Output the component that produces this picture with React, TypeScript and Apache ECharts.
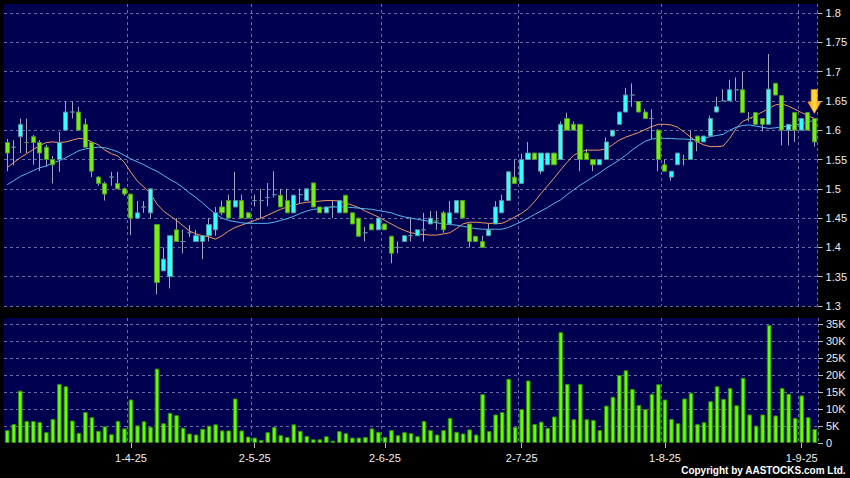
import React, { useEffect, useRef } from 'react';
import * as echarts from 'echarts';

// ---- categories (trading days, D-M-YY) ----
const daysMar = [5, 6, 7, 10, 11, 12, 13, 14, 17, 18, 19, 20, 21, 24, 25, 26, 27, 28, 31];
const daysApr = [1, 2, 3, 7, 8, 9, 10, 11, 14, 15, 16, 17, 22, 23, 24, 25, 28, 29, 30];
const daysMay = [2, 6, 7, 8, 9, 12, 13, 14, 15, 16, 19, 20, 21, 22, 23, 26, 27, 28, 29, 30];
const daysJun = [2, 3, 4, 5, 6, 9, 10, 11, 12, 13, 16, 17, 18, 19, 20, 23, 24, 25, 26, 27, 30];
const daysJul = [2, 3, 4, 7, 8, 9, 10, 11, 14, 15, 16, 17, 18, 21, 22, 23, 24, 25, 28, 29, 30, 31];
const daysAug = [1, 4, 5, 6, 7, 8, 11, 12, 13, 14, 15, 18, 19, 20, 21, 22, 25, 26, 27, 28, 29];
const daysSep = [1, 2, 3];

const monthLabels = ['1-4-25', '2-5-25', '2-6-25', '2-7-25', '1-8-25', '1-9-25'];
const priceTicks = [1.3, 1.35, 1.4, 1.45, 1.5, 1.55, 1.6, 1.65, 1.7, 1.75, 1.8];
const volumeTicks = [0, 5, 10, 15, 20, 25, 30, 35];

// ---- price series ----
const opens = [
  1.579, 1.571, 1.589, 1.579, 1.589, 1.579, 1.571, 1.550, 1.550, 1.600,
  1.631, 1.631, 1.610, 1.579, 1.520, 1.509, 1.520, 1.509, 1.500, 1.491,
  1.450, 1.469, 1.459, 1.439, 1.360, 1.350, 1.430, 1.410, 1.425, 1.410,
  1.410, 1.420, 1.430, 1.469, 1.480, 1.469, 1.480, 1.459, 1.480, 1.480,
  1.485, 1.490, 1.489, 1.480, 1.459, 1.490, 1.480, 1.510, 1.469, 1.459,
  1.470, 1.459, 1.489, 1.459, 1.450, 1.425, 1.440, 1.430, 1.440, 1.419,
  1.400, 1.410, 1.420, 1.420, 1.430, 1.440, 1.445, 1.459, 1.440, 1.459,
  1.480, 1.440, 1.419, 1.410, 1.420, 1.440, 1.459, 1.480, 1.520, 1.509,
  1.550, 1.561, 1.530, 1.541, 1.561, 1.550, 1.620, 1.610, 1.610, 1.561,
  1.550, 1.541, 1.550, 1.590, 1.610, 1.631, 1.660, 1.649, 1.631, 1.620,
  1.600, 1.541, 1.520, 1.541, 1.550, 1.550, 1.590, 1.580, 1.590, 1.631,
  1.650, 1.650, 1.669, 1.669, 1.620, 1.630, 1.620, 1.610, 1.680, 1.659,
  1.600, 1.630, 1.600, 1.630, 1.620,
];
const closes = [
  1.561, 1.571, 1.610, 1.579, 1.579, 1.561, 1.550, 1.541, 1.579, 1.631,
  1.631, 1.600, 1.571, 1.530, 1.509, 1.491, 1.520, 1.500, 1.491, 1.450,
  1.459, 1.469, 1.500, 1.340, 1.380, 1.420, 1.410, 1.410, 1.425, 1.420,
  1.420, 1.439, 1.459, 1.459, 1.450, 1.480, 1.450, 1.450, 1.480, 1.480,
  1.485, 1.490, 1.469, 1.459, 1.489, 1.490, 1.500, 1.469, 1.459, 1.469,
  1.470, 1.480, 1.459, 1.440, 1.419, 1.425, 1.430, 1.450, 1.430, 1.390,
  1.400, 1.420, 1.420, 1.430, 1.430, 1.450, 1.445, 1.430, 1.459, 1.480,
  1.450, 1.410, 1.410, 1.400, 1.430, 1.469, 1.480, 1.529, 1.509, 1.550,
  1.561, 1.550, 1.561, 1.561, 1.541, 1.610, 1.600, 1.600, 1.550, 1.550,
  1.541, 1.550, 1.580, 1.600, 1.631, 1.660, 1.660, 1.631, 1.620, 1.620,
  1.550, 1.530, 1.530, 1.561, 1.550, 1.580, 1.580, 1.590, 1.620, 1.640,
  1.650, 1.669, 1.669, 1.630, 1.620, 1.610, 1.610, 1.670, 1.660, 1.600,
  1.610, 1.600, 1.620, 1.600, 1.580,
];
const lows = [
  1.530, 1.540, 1.561, 1.561, 1.541, 1.530, 1.538, 1.509, 1.529, 1.600,
  1.620, 1.600, 1.571, 1.520, 1.505, 1.480, 1.505, 1.500, 1.488, 1.421,
  1.450, 1.459, 1.450, 1.320, 1.360, 1.330, 1.410, 1.390, 1.418, 1.410,
  1.380, 1.410, 1.420, 1.455, 1.450, 1.469, 1.450, 1.450, 1.470, 1.450,
  1.470, 1.485, 1.469, 1.459, 1.459, 1.475, 1.480, 1.469, 1.459, 1.459,
  1.450, 1.459, 1.459, 1.440, 1.419, 1.410, 1.430, 1.430, 1.430, 1.373,
  1.390, 1.410, 1.410, 1.420, 1.410, 1.440, 1.430, 1.425, 1.440, 1.459,
  1.450, 1.400, 1.410, 1.400, 1.420, 1.440, 1.459, 1.480, 1.509, 1.509,
  1.550, 1.550, 1.525, 1.541, 1.541, 1.550, 1.600, 1.600, 1.530, 1.550,
  1.530, 1.541, 1.550, 1.590, 1.610, 1.631, 1.640, 1.631, 1.620, 1.585,
  1.530, 1.530, 1.514, 1.541, 1.540, 1.549, 1.564, 1.580, 1.590, 1.631,
  1.650, 1.650, 1.650, 1.630, 1.615, 1.610, 1.598, 1.610, 1.660, 1.574,
  1.574, 1.580, 1.600, 1.600, 1.572,
];
const highs = [
  1.585, 1.583, 1.620, 1.620, 1.592, 1.583, 1.575, 1.556, 1.597, 1.649,
  1.649, 1.640, 1.620, 1.580, 1.522, 1.512, 1.529, 1.529, 1.502, 1.491,
  1.479, 1.479, 1.500, 1.439, 1.400, 1.420, 1.450, 1.430, 1.438, 1.430,
  1.420, 1.450, 1.469, 1.480, 1.490, 1.529, 1.490, 1.460, 1.490, 1.500,
  1.510, 1.530, 1.500, 1.500, 1.490, 1.500, 1.500, 1.510, 1.469, 1.469,
  1.480, 1.480, 1.489, 1.459, 1.450, 1.435, 1.440, 1.451, 1.440, 1.419,
  1.410, 1.420, 1.451, 1.430, 1.459, 1.462, 1.462, 1.462, 1.479, 1.480,
  1.480, 1.440, 1.419, 1.420, 1.440, 1.479, 1.490, 1.529, 1.550, 1.560,
  1.580, 1.561, 1.561, 1.561, 1.561, 1.615, 1.630, 1.615, 1.610, 1.568,
  1.550, 1.550, 1.588, 1.600, 1.631, 1.672, 1.680, 1.649, 1.636, 1.636,
  1.602, 1.550, 1.530, 1.561, 1.558, 1.600, 1.590, 1.590, 1.625, 1.657,
  1.670, 1.686, 1.690, 1.700, 1.631, 1.630, 1.620, 1.730, 1.680, 1.659,
  1.610, 1.630, 1.620, 1.630, 1.620,
];
const ma10 = [
  1.536, 1.545, 1.553, 1.560, 1.567, 1.574, 1.579, 1.580, 1.579, 1.580,
  1.583, 1.586, 1.585, 1.580, 1.575, 1.566, 1.560, 1.556, 1.545, 1.528,
  1.513, 1.503, 1.492, 1.474, 1.462, 1.454, 1.446, 1.437, 1.428, 1.423,
  1.420, 1.418, 1.414, 1.420, 1.428, 1.434, 1.438, 1.442, 1.446, 1.450,
  1.455, 1.460, 1.465, 1.469, 1.472, 1.475, 1.477, 1.478, 1.479, 1.480,
  1.480, 1.479, 1.476, 1.472, 1.468, 1.462, 1.457, 1.452, 1.446, 1.440,
  1.434, 1.429, 1.425, 1.423, 1.422, 1.421, 1.421, 1.423, 1.425, 1.432,
  1.440, 1.443, 1.443, 1.442, 1.441, 1.441, 1.441, 1.446, 1.452, 1.458,
  1.466, 1.478, 1.492, 1.505, 1.518, 1.532, 1.545, 1.557, 1.563, 1.566,
  1.566, 1.566, 1.568, 1.575, 1.583, 1.588, 1.592, 1.596, 1.601, 1.606,
  1.610, 1.610, 1.609, 1.605, 1.597, 1.588, 1.580, 1.575, 1.572, 1.572,
  1.573, 1.586, 1.603, 1.615, 1.620, 1.625, 1.631, 1.637, 1.643, 1.645,
  1.641, 1.636, 1.630, 1.625, 1.620,
];
const ma20 = [
  1.507, 1.514, 1.521, 1.526, 1.531, 1.536, 1.539, 1.544, 1.548, 1.553,
  1.559, 1.565, 1.568, 1.570, 1.571, 1.570, 1.567, 1.563, 1.557, 1.551,
  1.546, 1.541, 1.535, 1.530, 1.523, 1.516, 1.510, 1.502, 1.493, 1.485,
  1.476, 1.466, 1.457, 1.450, 1.446, 1.444, 1.442, 1.441, 1.441, 1.441,
  1.441, 1.443, 1.446, 1.449, 1.453, 1.458, 1.462, 1.465, 1.466, 1.468,
  1.469, 1.469, 1.469, 1.468, 1.467, 1.466, 1.465, 1.463, 1.461, 1.459,
  1.455, 1.452, 1.450, 1.448, 1.446, 1.444, 1.442, 1.440, 1.439, 1.438,
  1.436, 1.434, 1.432, 1.431, 1.431, 1.431, 1.431, 1.434, 1.439, 1.444,
  1.450, 1.456, 1.462, 1.468, 1.475, 1.481, 1.490, 1.498, 1.506, 1.513,
  1.520, 1.527, 1.535, 1.542, 1.549, 1.557, 1.566, 1.574, 1.581, 1.585,
  1.586, 1.586, 1.586, 1.585, 1.585, 1.584, 1.584, 1.586, 1.589, 1.591,
  1.593, 1.600, 1.605, 1.608, 1.609, 1.607, 1.605, 1.603, 1.604, 1.606,
  1.607, 1.609, 1.611, 1.614, 1.617,
];
// volume in thousands of shares
const volumeK = [
  3.8, 5.6, 15.4, 6.5, 6.5, 6.2, 3.2, 7.1, 17.4, 16.7,
  6.6, 3.0, 9.1, 7.6, 3.6, 4.9, 2.6, 6.5, 4.3, 12.8,
  5.2, 6.4, 4.8, 21.9, 5.8, 8.9, 8.2, 4.5, 2.8, 2.5,
  4.2, 5.1, 5.5, 3.7, 3.7, 13.1, 3.7, 1.9, 1.6, 0.9,
  3.2, 4.7, 2.3, 1.8, 5.5, 3.6, 2.1, 1.1, 1.1, 2.0,
  0.7, 3.5, 2.9, 1.6, 1.6, 1.8, 4.3, 3.3, 1.8, 3.8,
  2.3, 3.2, 2.9, 2.0, 6.5, 3.8, 2.5, 3.8, 7.4, 3.3,
  2.8, 4.0, 2.5, 14.4, 3.5, 8.4, 9.1, 18.9, 4.7, 10.0,
  18.4, 5.6, 6.3, 4.5, 7.8, 32.6, 17.4, 7.0, 17.4, 7.0,
  6.8, 3.8, 11.0, 13.6, 20.0, 21.4, 15.9, 11.2, 10.0, 14.5,
  17.3, 12.8, 7.1, 5.8, 13.1, 14.8, 5.6, 6.1, 12.3, 16.7,
  13.0, 16.2, 11.1, 19.2, 8.4, 5.1, 8.4, 34.7, 8.1, 16.2,
  14.5, 7.4, 14.0, 7.6, 4.1,
];
const markerDate = '3-9-25';
const markerPrice = 1.649;

const dates = [
  ...daysMar.map((d) => `${d}-3-25`),
  ...daysApr.map((d) => `${d}-4-25`),
  ...daysMay.map((d) => `${d}-5-25`),
  ...daysJun.map((d) => `${d}-6-25`),
  ...daysJul.map((d) => `${d}-7-25`),
  ...daysAug.map((d) => `${d}-8-25`),
  ...daysSep.map((d) => `${d}-9-25`),
];

const NAVY = '#000050';
const GRID_LINE = '#6a6aa6';
const FONT = '"Liberation Sans", Arial, sans-serif';

export default function App() {
  const ref = useRef<HTMLDivElement>(null);
  useEffect(() => {
    if (!ref.current) return;
    const chart = echarts.init(ref.current, null, { renderer: 'svg' });
    const isMonth = (_i: number, v: string) => monthLabels.includes(v);
    const wickData = dates.map((_, i) => [opens[i], closes[i], lows[i], highs[i]]);
    const bodyData = dates.map((_, i) => [
      opens[i], closes[i], Math.min(opens[i], closes[i]), Math.max(opens[i], closes[i]),
    ]);
    const priceMax = 1.8 + 9 / 586;
    const volMax = (35 * 125) / 119;
    const dashed = { color: GRID_LINE, type: [3, 3] as any, width: 1 };

    chart.setOption({
      animation: false,
      backgroundColor: '#000000',
      textStyle: { fontFamily: FONT },
      grid: [
        { left: 4, top: 4, width: 814, height: 302, show: true, backgroundColor: NAVY, borderWidth: 0 },
        { left: 4, top: 318, width: 814, height: 125, show: true, backgroundColor: NAVY, borderWidth: 0 },
      ],
      xAxis: [
        {
          type: 'category', gridIndex: 0, data: dates, boundaryGap: true,
          axisLine: { show: false }, axisTick: { show: false }, axisLabel: { show: false },
          splitLine: { show: true, interval: isMonth, lineStyle: dashed },
        },
        {
          type: 'category', gridIndex: 1, data: dates, boundaryGap: true,
          axisLine: { show: false },
          axisTick: { show: true, interval: isMonth, alignWithLabel: true, length: 5, lineStyle: { color: '#bbbbbb' } },
          axisLabel: { show: true, interval: isMonth, color: '#eeeeee', fontSize: 11, margin: 9, fontFamily: FONT },
          splitLine: { show: true, interval: isMonth, lineStyle: dashed },
        },
      ],
      yAxis: [
        {
          type: 'value', gridIndex: 0, position: 'right', min: 1.3, max: priceMax, interval: 0.05,
          axisLine: { show: false },
          axisTick: { show: true, length: 5, customValues: priceTicks, lineStyle: { color: '#bbbbbb' } },
          axisLabel: {
            show: true, customValues: priceTicks, color: '#eeeeee', fontSize: 11, margin: 8,
            fontFamily: FONT,
            formatter: (v: number) => String(parseFloat(Number(v).toFixed(2))),
          },
          splitLine: { show: true, lineStyle: dashed },
        },
        {
          type: 'value', gridIndex: 1, position: 'right', min: 0, max: volMax, interval: 5,
          axisLine: { show: false },
          axisTick: { show: true, length: 5, customValues: volumeTicks, lineStyle: { color: '#bbbbbb' } },
          axisLabel: {
            show: true, customValues: volumeTicks, color: '#eeeeee', fontSize: 11, margin: 8,
            fontFamily: FONT,
            formatter: (v: number) => (v === 0 ? '0' : `${Math.round(v)}K`),
          },
          splitLine: { show: true, showMinLine: false, lineStyle: dashed },
        },
      ],
      series: [
        {
          name: 'wick', type: 'candlestick', xAxisIndex: 0, yAxisIndex: 0, data: wickData,
          barWidth: 1,
          itemStyle: { color: '#a4a4bc', color0: '#a4a4bc', borderColor: '#a4a4bc', borderColor0: '#a4a4bc', borderWidth: 1 },
          z: 2,
        },
        {
          name: 'MA10', type: 'line', xAxisIndex: 0, yAxisIndex: 0, data: ma10,
          showSymbol: false, symbol: 'none', lineStyle: { color: '#ee9966', width: 1 }, z: 3,
        },
        {
          name: 'MA20', type: 'line', xAxisIndex: 0, yAxisIndex: 0, data: ma20,
          showSymbol: false, symbol: 'none', lineStyle: { color: '#55b8ee', width: 1 }, z: 3,
        },
        {
          name: 'body', type: 'candlestick', xAxisIndex: 0, yAxisIndex: 0, data: bodyData,
          barWidth: 4.6,
          itemStyle: { color: '#33ffff', color0: '#77ee11', borderColor: '#5c8fa0', borderColor0: '#4f9a26', borderWidth: 1 },
          z: 4,
          markPoint: {
            silent: true,
            symbol: 'path://M3,0 L9,0 L9,12 L12,12 L6,23 L0,12 L3,12 Z',
            symbolSize: [13, 24],
            label: { show: false },
            itemStyle: {
              color: new echarts.graphic.LinearGradient(0, 0, 1, 0, [
                { offset: 0, color: '#ff9900' },
                { offset: 0.5, color: '#ffdd44' },
                { offset: 1, color: '#ff9900' },
              ]),
              borderColor: '#ee8800', borderWidth: 0.5,
            },
            data: [{ coord: [markerDate, markerPrice] }],
          },
        },
        {
          name: 'volume', type: 'bar', xAxisIndex: 1, yAxisIndex: 1, data: volumeK,
          barWidth: 4.6,
          itemStyle: { color: '#66ff00', borderColor: '#2f8a00', borderWidth: 1 },
        },
      ],
      graphic: [
        {
          type: 'text', right: 4, bottom: 3,
          style: { text: 'Copyright by AASTOCKS.com Ltd.', fill: '#ffffff', font: `bold 10px ${FONT}` },
        },
      ],
    });
    return () => chart.dispose();
  }, []);
  return <div ref={ref} style={{ position: 'fixed', left: 0, top: 0, width: 850, height: 478 }} />;
}
